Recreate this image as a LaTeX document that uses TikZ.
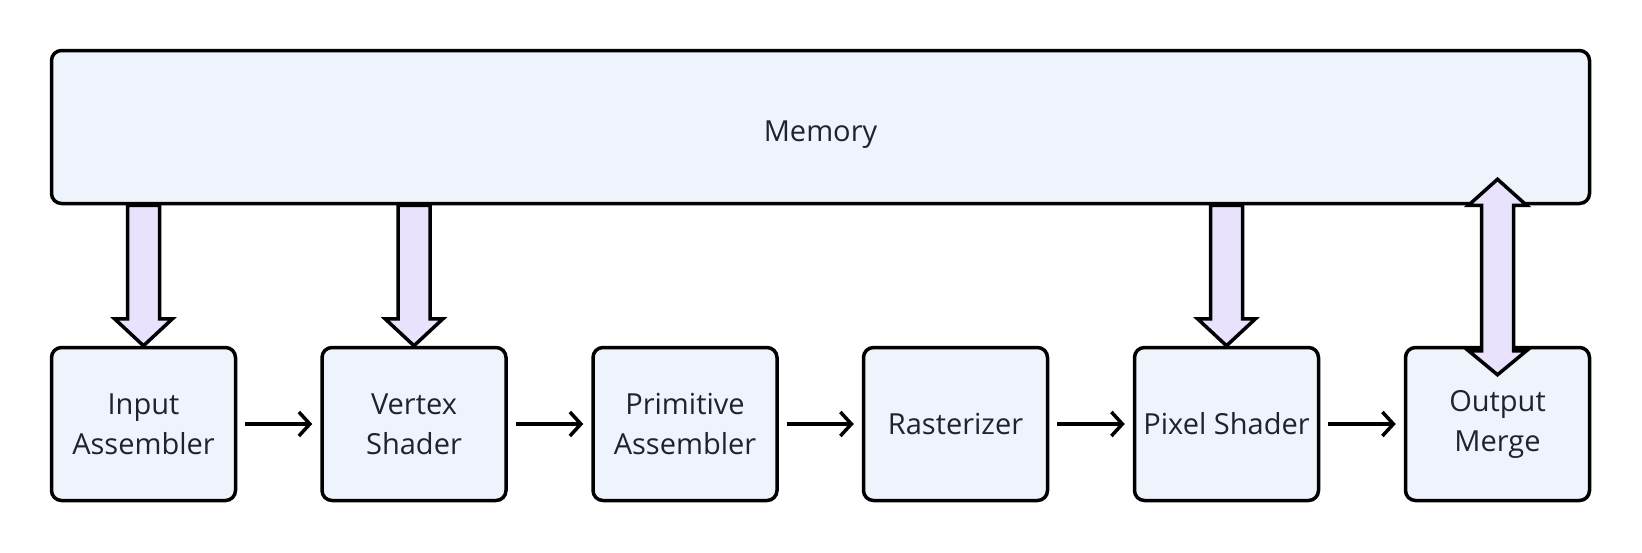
\documentclass[tikz,border=0pt]{standalone}
\usepackage{fontspec}
\setmainfont{Open Sans}
\usetikzlibrary{arrows.meta, positioning, calc}
\definecolor{boxfill}{RGB}{239,243,252}
\definecolor{busfill}{RGB}{233,226,253}
\definecolor{inkcol}{RGB}{31,35,48}

\begin{document}
\begin{tikzpicture}[
    x=1pt, y=-1pt,
    stage/.style={draw, line width=3.5pt, rounded corners=10pt, fill=boxfill,
        minimum width=184pt, minimum height=153pt, inner sep=0pt,
        align=center, text=inkcol, font=\fontsize{29}{40}\selectfont},
    memory/.style={stage, minimum width=1538pt},
    flow/.style={-{Straight Barb[length=11pt, width=24pt]}, line width=3.5pt,
        shorten <=8pt, shorten >=8pt},
    bus/.style={draw, line width=3.5pt, fill=busfill, line join=miter},
]
\useasboundingbox (0,0) rectangle (1642,552);

% Memory on top
\node[memory] (mem) at (820.5,127) {\raisebox{-14pt}[0pt][0pt]{Memory}};

% Pipeline stages
\node[stage] (ia) at (143.5,424) {Input\\Assembler};
\node[stage] (vs) at (414,424) {Vertex\\Shader};
\node[stage] (pa) at (685,424) {Primitive\\Assembler};
\node[stage] (rs) at (955.5,424) {Rasterizer};
\node[stage] (ps) at (1226.5,424) {Pixel Shader};
\node[stage] (om) at (1497.5,424) {Output\\Merge};

% Flow between stages
\draw[flow] (ia) -- (vs);
\draw[flow] (vs) -- (pa);
\draw[flow] (pa) -- (rs);
\draw[flow] (rs) -- (ps);
\draw[flow] (ps) -- (om);

% Reads from memory
\draw[bus] (ia.north) -- ++(29,-27) -- ++(-13,0) -- ($(ia.north |- mem.south)+(16,0)$)
    -- ++(-32,0) -- ($(ia.north)+(-16,-27)$) -- ++(-13,0) -- cycle;
\draw[bus] (vs.north) -- ++(29,-27) -- ++(-13,0) -- ($(vs.north |- mem.south)+(16,0)$)
    -- ++(-32,0) -- ($(vs.north)+(-16,-27)$) -- ++(-13,0) -- cycle;
\draw[bus] (ps.north) -- ++(29,-27) -- ++(-13,0) -- ($(ps.north |- mem.south)+(16,0)$)
    -- ++(-32,0) -- ($(ps.north)+(-16,-27)$) -- ++(-13,0) -- cycle;

% Read/write for output merge
\draw[bus] ($(om.north |- mem.south)+(0,-26)$) -- ++(29,26) -- ++(-13,0)
    -- ($(om.north)+(16,5)$) -- ++(13,0) -- ++(-29,24) -- ++(-29,-24) -- ++(13,0)
    -- ($(om.north |- mem.south)+(-16,0)$) -- ++(-13,0) -- cycle;

\end{tikzpicture}
\end{document}
